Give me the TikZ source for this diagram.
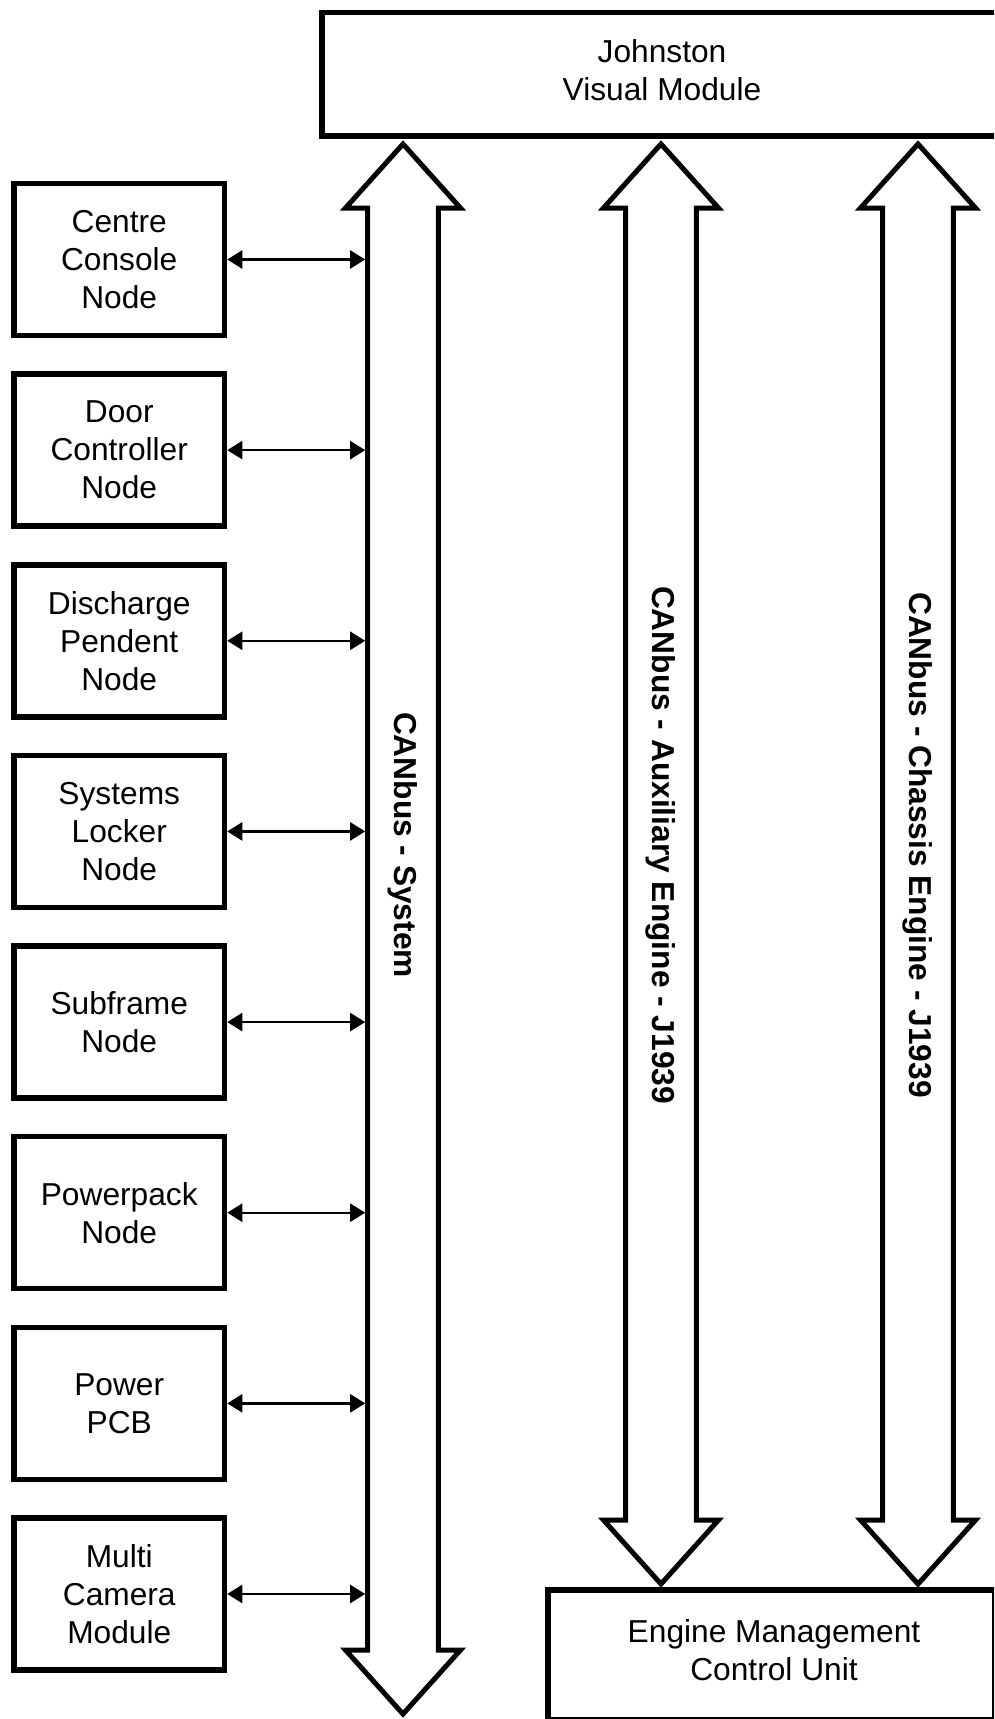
\documentclass[tikz,border=0pt]{standalone}
\usepackage{fontspec}
\setmainfont{Liberation Sans}
\usetikzlibrary{arrows.meta}
\begin{document}
\begin{tikzpicture}[x=1pt,y=-1pt,
  every node/.style={font=\fontsize{31.7}{38}\selectfont, align=center, inner sep=0pt},
  unitbox/.style={draw, line width=5.5pt, minimum width=210.5pt, minimum height=152pt},
  bigbox/.style={draw, line width=5.5pt},
  busarrow/.style={draw, line width=5pt, line join=miter},
  link/.style={line width=2.4pt, {Triangle[length=15pt,width=18pt]}-{Triangle[length=15pt,width=18pt]}},
  buslabel/.style={font=\fontsize{31.7}{38}\selectfont\bfseries, rotate=-90}]
\useasboundingbox (0,0) rectangle (994,1719);
\fill[white] (0,0) rectangle (994,1719);
\begin{scope}
\clip (0,0) rectangle (994,1719);
% top and bottom modules
\draw[bigbox] (322,12.7) rectangle (1003,136);
\node (jvm) at (662,70) {Johnston\\Visual Module};
\draw[bigbox] (548,1590) rectangle (995,1720);
\node (ecu) at (774,1650) {Engine Management\\Control Unit};
% bus arrows
\draw[busarrow] (403,144) -- (460.5,208) -- (438.3,208) -- (438.3,1650) -- (460.5,1650) -- (403,1714)
  -- (345.5,1650) -- (367.7,1650) -- (367.7,208) -- (345.5,208) -- cycle;
\foreach \cx in {661,918}{
\draw[busarrow] (\cx,144) -- ({\cx+57.5},208) -- ({\cx+35.3},208) -- ({\cx+35.3},1520) -- ({\cx+57.5},1520) -- (\cx,1584)
  -- ({\cx-57.5},1520) -- ({\cx-35.3},1520) -- ({\cx-35.3},208) -- ({\cx-57.5},208) -- cycle;
}
\node[buslabel] (sys) at (403,845) {CANbus - System};
\node[buslabel] (aux) at (661,845) {CANbus - Auxiliary Engine - J1939};
\node[buslabel] (chs) at (918,845) {CANbus - Chassis Engine - J1939};
% left units
\foreach \i/\t in {0/{Centre\\Console\\Node},1/{Door\\Controller\\Node},2/{Discharge\\Pendent\\Node},3/{Systems\\Locker\\Node},4/{Subframe\\Node},5/{Powerpack\\Node},6/{Power\\PCB},7/{Multi\\Camera\\Module}}{
  \node[unitbox] (u\i) at (119.25,{259.5+190.64*\i}) {\t};
  \coordinate (b\i) at (365.2,{259.5+190.64*\i});
  \draw[link] (u\i.east) -- (b\i);
}
\end{scope}
\end{tikzpicture}
\end{document}
